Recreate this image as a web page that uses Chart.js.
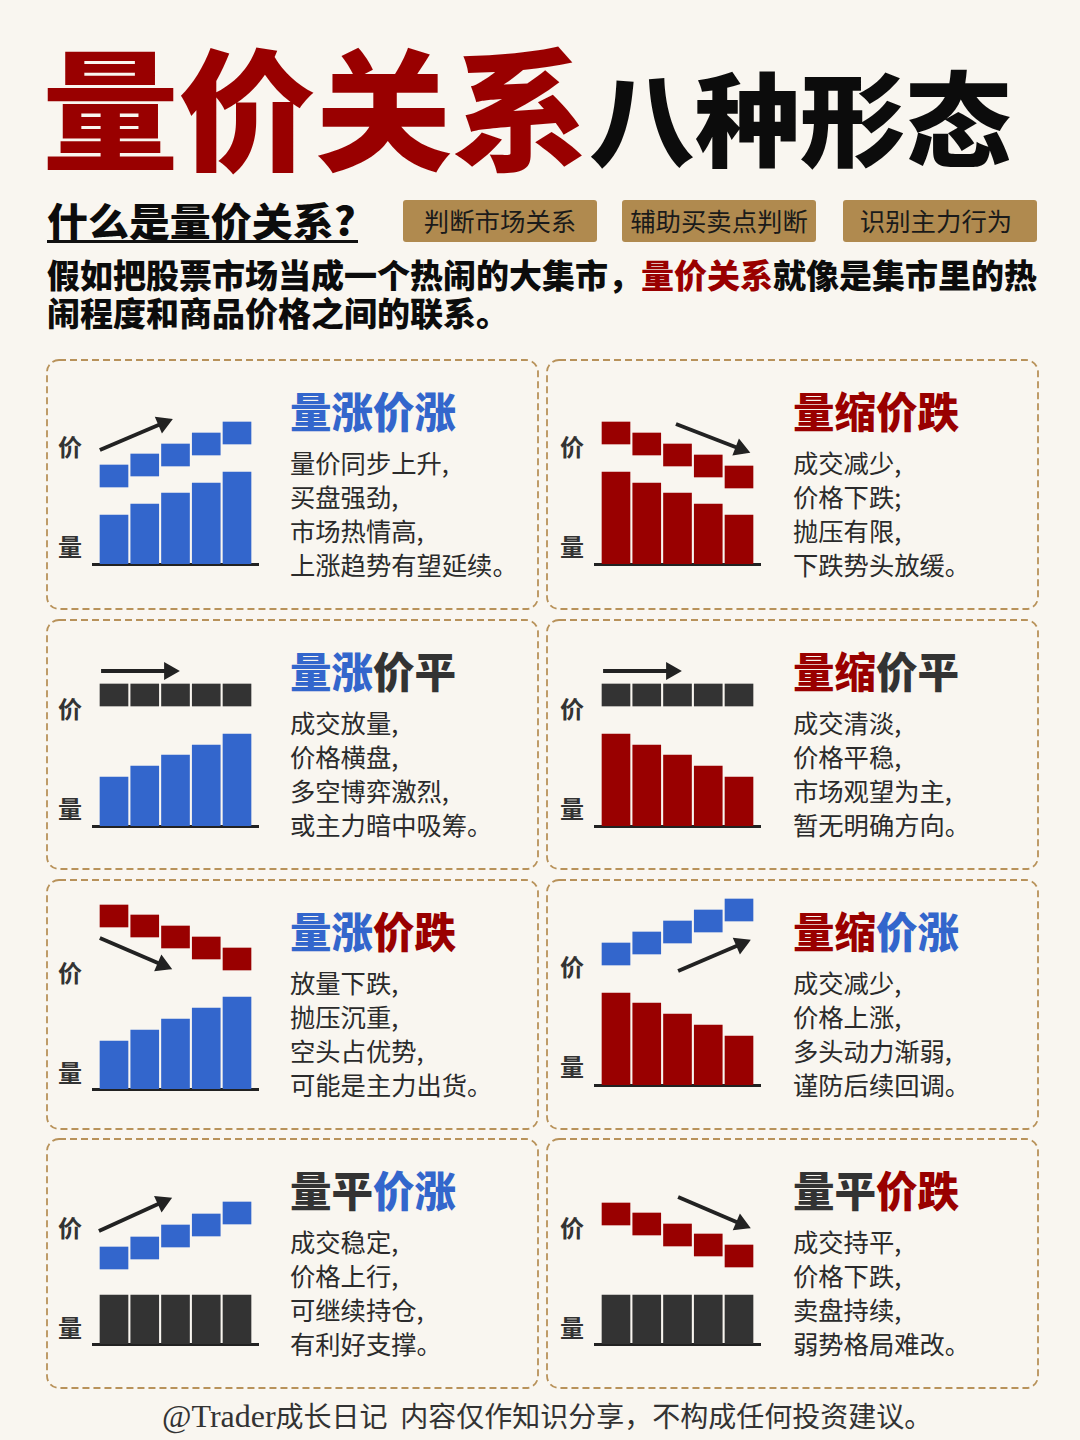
<!DOCTYPE html>
<html lang="zh"><head><meta charset="utf-8">
<script src="https://cdn.jsdelivr.net/npm/chart.js@4"></script>
<style>
html,body{margin:0;padding:0;background:#f9f6f0}
#page{position:relative;width:1080px;height:1440px;overflow:hidden;background:#f9f6f0;font-family:"Noto Sans CJK SC","Noto Sans",sans-serif;color:#111}
#page>*{position:absolute;white-space:nowrap}
.big{font-weight:900;transform-origin:0 0;line-height:1}
.badge{background:#b08a4f;border-radius:3px;top:200px;height:42px;width:194px;text-align:center;line-height:41px;font-size:25.4px;color:#1a1a1a;font-weight:400;box-sizing:border-box}
.para{left:47px;font-size:33px;font-weight:900;line-height:38px;color:#0c0c0c}
.axl{font-size:24px;font-weight:700;color:#333;line-height:28px}
.ttl{font-size:41.5px;font-weight:900;line-height:46px}
#page>.body{font-size:25.3px;line-height:34px;color:#2b2b2b;font-weight:400;white-space:pre}
canvas{position:absolute}
</style></head><body><div id="page"></div>
<script>
const BLUE='#3366cc', RED='#990000', DARK='#333333';
const days=[0,1,2,3,4];
const priceBlockHeight=22;

// volume: height above the baseline, one array per pattern
const volUpA=[49,60,71,81,92];
const volDownA=[92,81,71,60,49];
const volUpB=[49,60,71,81,92];
const volDownB=[92,81,71,60,49];
const volUpC=[48,59,70,81,92];
const volDownC=[92,82,71,60,49];
const volFlatA=[49,49,49,49,49];
const volFlatB=[49,49,49,49,49];

// price: top of each block above the baseline
const priceUpA=[99,110,120,131,142];
const priceDownA=[142,131,120,109,98];
const priceFlatA=[142,142,142,142,142];
const priceFlatB=[142,142,142,142,142];
const priceDownB=[184,174,163,152,141];
const priceUpB=[142,153,164,175,186];
const priceUpC=[97,107,119,130,142];
const priceDownC=[141,131,120,110,99];

// trend arrows: [day position], [price level]
const arrowXA=[-0.46,1.6],  arrowYA=[114,141];
const arrowXB=[1.95,4.05],  arrowYB=[140,115];
const arrowXC=[-0.42,1.8],  arrowYC=[155,155];
const arrowXD=[-0.42,1.8],  arrowYD=[155,155];
const arrowXE=[-0.46,1.58], arrowYE=[151,124];
const arrowXF=[2.02,4.07],  arrowYF=[114,141];
const arrowXG=[-0.49,1.58], arrowYG=[113,142];
const arrowXH=[2.02,4.07],  arrowYH=[147,120];

const titles=[
 [['量涨',BLUE],['价涨',BLUE]],[['量缩',RED],['价跌',RED]],
 [['量涨',BLUE],['价平',DARK]],[['量缩',RED],['价平',DARK]],
 [['量涨',BLUE],['价跌',RED]],[['量缩',RED],['价涨',BLUE]],
 [['量平',DARK],['价涨',BLUE]],[['量平',DARK],['价跌',RED]]];
const bodies=[
 ['量价同步上升,','买盘强劲,','市场热情高,','上涨趋势有望延续。'],
 ['成交减少,','价格下跌;','抛压有限,','下跌势头放缓。'],
 ['成交放量,','价格横盘,','多空博弈激烈,','或主力暗中吸筹。'],
 ['成交清淡,','价格平稳,','市场观望为主,','暂无明确方向。'],
 ['放量下跌,','抛压沉重,','空头占优势,','可能是主力出货。'],
 ['成交减少,','价格上涨,','多头动力渐弱,','谨防后续回调。'],
 ['成交稳定,','价格上行,','可继续持仓,','有利好支撑。'],
 ['成交持平,','价格下跌,','卖盘持续,','弱势格局难改。']];

const panels=[
 {col:0,top:360,base:564,lab:446,vol:volUpA,price:priceUpA,ax:arrowXA,ay:arrowYA,vc:BLUE,pc:BLUE},
 {col:1,top:360,base:564,lab:446,vol:volDownA,price:priceDownA,ax:arrowXB,ay:arrowYB,vc:RED,pc:RED},
 {col:0,top:620,base:826,lab:708,vol:volUpB,price:priceFlatA,ax:arrowXC,ay:arrowYC,vc:BLUE,pc:DARK},
 {col:1,top:620,base:826,lab:708,vol:volDownB,price:priceFlatB,ax:arrowXD,ay:arrowYD,vc:RED,pc:DARK},
 {col:0,top:880,base:1089,lab:972,vol:volUpC,price:priceDownB,ax:arrowXE,ay:arrowYE,vc:BLUE,pc:RED},
 {col:1,top:880,base:1085,lab:966,vol:volDownC,price:priceUpB,ax:arrowXF,ay:arrowYF,vc:RED,pc:BLUE},
 {col:0,top:1139,base:1344,lab:1227,vol:volFlatA,price:priceUpC,ax:arrowXG,ay:arrowYG,vc:DARK,pc:BLUE},
 {col:1,top:1139,base:1344,lab:1227,vol:volFlatB,price:priceDownC,ax:arrowXH,ay:arrowYH,vc:DARK,pc:RED}];

const page=document.getElementById('page');
function add(cls,css,html){const d=document.createElement('div');d.className=cls;d.style.cssText=css;d.innerHTML=html;page.appendChild(d);return d;}

// header
add('big','left:42px;top:38px;font-size:134px;color:#990000;transform:scale(1.02,0.975);','量价关系');
add('big','left:589px;top:64px;font-size:104.5px;color:#0c0c0c;transform:scale(1.01,0.98);','八种形态');
add('big','left:47px;top:196px;font-size:39px;line-height:46px;color:#0c0c0c;transform:scaleX(1.05);','什么是量价关系?');
add('','left:47px;top:240px;width:311px;height:2.5px;background:#111;','');
add('badge','left:403px;','判断市场关系');
add('badge','left:622px;','辅助买卖点判断');
add('badge','left:843px;padding-right:8px;','识别主力行为');
add('para','top:255px;','假如把股票市场当成一个热闹的大集市，<span style="color:#990000">量价关系</span>就像是集市里的热');
add('para','top:293px;','闹程度和商品价格之间的联系。');
add('','left:162px;top:1397px;font-size:28px;line-height:36px;color:#333;','<span style="font-family:\'Liberation Serif\';font-size:32px">@Trader</span>成长日记&nbsp; 内容仅作知识分享，不构成任何投资建议。');

const UNIT=30.75, BAR_W=28, HALF=22;
panels.forEach((p,i)=>{
  const ox=p.col*502;
  const tx=290+ox+p.col;
  const pw=491, ph=249;
  add('',`left:${46+p.col*500}px;top:${p.top-1}px;width:${pw+2}px;height:${ph+2}px;`,
    `<svg width="${pw+2}" height="${ph+2}" style="display:block"><rect x="1" y="1" width="${pw}" height="${ph}" rx="12" ry="12" fill="none" stroke="#b8925a" stroke-width="1.8" stroke-dasharray="7 4"/></svg>`);
  add('axl',`left:${58+ox}px;top:${p.lab-14}px;`,'价');
  add('axl',`left:${58+ox}px;top:${p.lab+86}px;`,'量');
  add('ttl',`left:${tx}px;top:${p.top+27}px;`,titles[i].map(t=>`<span style="color:${t[1]}">${t[0]}</span>`).join(''));
  add('body',`left:${tx}px;top:${p.top+85}px;`,bodies[i].join('\n'));

  const cv=document.createElement('canvas');
  const W=167, H=p.base-p.top+4;
  cv.width=W;cv.height=H;
  cv.style.cssText=`left:${92+ox}px;top:${p.top}px;width:${W}px;height:${H}px;`;
  page.appendChild(cv);
  const dx=(p.ax[1]-p.ax[0])*UNIT, dy=p.ay[1]-p.ay[0];
  const deg=Math.atan2(dx,dy)*180/Math.PI;
  new Chart(cv,{
    type:'bar',
    data:{datasets:[
      {type:'bar',label:'量',data:days.map((d,k)=>({x:d,y:p.vol[k]})),backgroundColor:p.vc,barThickness:BAR_W,grouped:false,order:2},
      {type:'bar',label:'价',data:days.map((d,k)=>({x:d,y:[p.price[k]-priceBlockHeight,p.price[k]]})),backgroundColor:p.pc,barThickness:BAR_W,grouped:false,order:2},
      {type:'line',label:'趋势',data:p.ax.map((x,k)=>({x,y:p.ay[k]})),borderColor:'#222',backgroundColor:'#222',borderWidth:4,
       pointRadius:[0,6.5],pointHoverRadius:[0,6.5],pointStyle:'triangle',pointRotation:[0,deg],pointBorderColor:'#222',pointBackgroundColor:'#222',clip:false,order:1}
    ]},
    options:{
      responsive:false,animation:false,devicePixelRatio:1,
      layout:{autoPadding:false,padding:{left:0,right:0,top:0,bottom:4}},
      plugins:{legend:{display:false},tooltip:{enabled:false}},
      scales:{
        x:{type:'linear',min:-HALF/UNIT,max:4+HALF/UNIT,offset:false,
           grid:{display:false,drawTicks:false},ticks:{display:false},border:{display:true,color:'#222',width:3}},
        y:{display:false,min:0,max:p.base-p.top}
      }
    }
  });
});
</script></body></html>
